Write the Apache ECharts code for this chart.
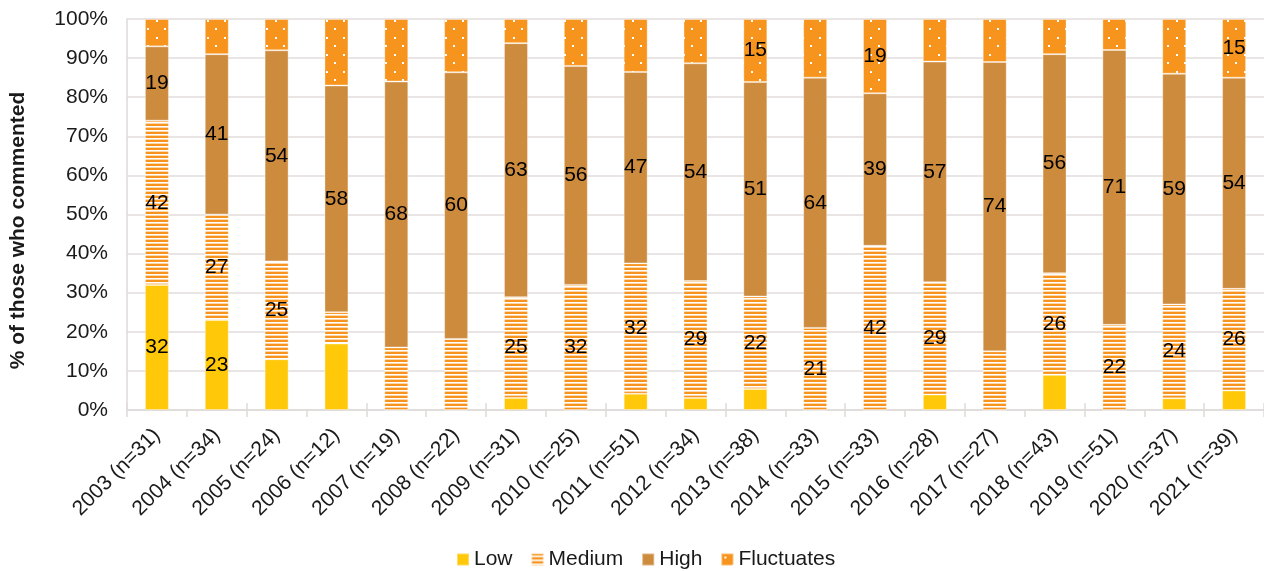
<!DOCTYPE html>
<html>
<head>
<meta charset="utf-8">
<script src="https://cdn.jsdelivr.net/npm/echarts@6/dist/echarts.min.js"></script>
<style>
  html, body { margin: 0; padding: 0; background: #fff; }
  #chart { width: 1264px; height: 571px; }
</style>
</head>
<body>
<div id="chart"></div>
<script>
// Survey years with number of respondents who commented
const years = ['2003 (n=31)', '2004 (n=34)', '2005 (n=24)', '2006 (n=12)', '2007 (n=19)',
  '2008 (n=22)', '2009 (n=31)', '2010 (n=25)', '2011 (n=51)', '2012 (n=34)', '2013 (n=38)',
  '2014 (n=33)', '2015 (n=33)', '2016 (n=28)', '2017 (n=27)', '2018 (n=43)', '2019 (n=51)',
  '2020 (n=37)', '2021 (n=39)'];

// Reported values per category (each column is scaled to 100%)
const low        = [32, 23, 13, 17, 0, 0, 3, 0, 4, 3, 5, 0, 0, 4, 0, 9, 0, 3, 5];
const medium     = [42, 27, 25, 8, 16, 16, 25, 32, 32, 29, 22, 21, 42, 29, 15, 26, 22, 24, 26];
const high       = [19, 41, 54, 58, 68, 60, 63, 56, 47, 54, 51, 64, 39, 57, 74, 56, 71, 59, 54];
const fluctuates = [7, 9, 8, 17, 16, 12, 6, 12, 13, 11, 15, 15, 19, 11, 11, 9, 8, 14, 15];

// Which values carry a printed label (1 = labelled)
const lowLabelled        = [1, 1, 0, 0, 0, 0, 0, 0, 0, 0, 0, 0, 0, 0, 0, 0, 0, 0, 0];
const mediumLabelled     = [1, 1, 1, 0, 0, 0, 1, 1, 1, 1, 1, 1, 1, 1, 0, 1, 1, 1, 1];
const highLabelled       = [1, 1, 1, 1, 1, 1, 1, 1, 1, 1, 1, 1, 1, 1, 1, 1, 1, 1, 1];
const fluctuatesLabelled = [0, 0, 0, 0, 0, 0, 0, 0, 0, 0, 1, 0, 1, 0, 0, 0, 0, 0, 1];

const ORANGE = '#f7941d';

// Narrow horizontal stripes for "Medium"
function stripePattern() {
  const c = document.createElement('canvas');
  c.width = 4; c.height = 4;
  const g = c.getContext('2d');
  g.fillStyle = '#ffffff'; g.fillRect(0, 0, 4, 4);
  g.fillStyle = ORANGE; g.fillRect(0, 0, 4, 2);
  g.fillStyle = '#fcd7ab'; g.fillRect(0, 3, 4, 1);
  return c;
}

// Sparse white dots on orange for "Fluctuates"
function dotPattern() {
  const c = document.createElement('canvas');
  c.width = 17; c.height = 17;
  const g = c.getContext('2d');
  g.fillStyle = ORANGE; g.fillRect(0, 0, 17, 17);
  g.fillStyle = '#ffffff';
  g.fillRect(3, 3, 2, 2);
  g.fillRect(11, 11, 2, 2);
  return c;
}

const totals = years.map((_, i) => low[i] + medium[i] + high[i] + fluctuates[i]);

function toData(values, labelled) {
  return values.map((v, i) => ({
    value: v / totals[i] * 100,
    raw: v,
    label: { show: labelled[i] === 1 }
  }));
}

const FONT = '"Liberation Sans", Arial, sans-serif';
const TEXT = '#1a1a1a';
const RULE = '#e0dada';

function makeSeries(name, values, labelled, color) {
  return {
    name: name,
    type: 'bar',
    stack: 'share',
    barWidth: 24,
    data: toData(values, labelled),
    itemStyle: { color: color, borderColor: 'rgba(255,255,255,0.35)', borderWidth: 1 },
    label: {
      position: 'inside',
      fontSize: 21,
      fontFamily: FONT,
      color: '#000',
      formatter: p => p.data.raw
    },
    emphasis: { disabled: true }
  };
}

const chart = echarts.init(document.getElementById('chart'), null, { renderer: 'canvas' });

chart.setOption({
  animation: false,
  textStyle: { fontFamily: FONT },
  grid: { left: 126, top: 19, width: 1140, height: 391, containLabel: false },
  legend: {
    left: 456,
    top: 549,
    padding: 0,
    itemWidth: 12,
    itemHeight: 12,
    itemGap: 18,
    icon: 'rect',
    textStyle: { fontSize: 21, color: TEXT, fontFamily: FONT },
    data: ['Low', 'Medium', 'High', 'Fluctuates']
  },
  xAxis: [{
    type: 'category',
    data: years,
    position: 'bottom',
    axisLine: { lineStyle: { color: RULE, width: 1.5 } },
    axisTick: { show: true, length: 7, lineStyle: { color: RULE, width: 1.5 } },
    axisLabel: { rotate: 45, interval: 0, fontSize: 21, color: TEXT, margin: 22, fontFamily: FONT }
  }, {
    // inner half of the crossing tick marks
    type: 'category',
    data: years,
    position: 'bottom',
    offset: 0,
    axisLine: { show: false },
    axisTick: { show: true, inside: true, length: 7, lineStyle: { color: RULE, width: 1.5 } },
    axisLabel: { show: false }
  }],
  yAxis: {
    type: 'value',
    min: 0,
    max: 100,
    interval: 10,
    name: '% of those who commented',
    nameLocation: 'middle',
    nameGap: 98,
    nameTextStyle: {
      fontSize: 21, fontWeight: 'bold', color: TEXT, fontFamily: FONT,
      padding: [0, 32, 0, 0]
    },
    axisLine: { show: true, lineStyle: { color: RULE, width: 1.5 } },
    axisTick: { show: false },
    axisLabel: { formatter: '{value}%', fontSize: 21, color: TEXT, margin: 19, fontFamily: FONT },
    splitLine: { lineStyle: { color: '#e3dddd', width: 1.5 } }
  },
  series: [
    makeSeries('Low', low, lowLabelled, '#ffc90a'),
    makeSeries('Medium', medium, mediumLabelled, { image: stripePattern(), repeat: 'repeat' }),
    makeSeries('High', high, highLabelled, '#cd8b3e'),
    makeSeries('Fluctuates', fluctuates, fluctuatesLabelled, { image: dotPattern(), repeat: 'repeat' })
  ]
});
</script>
</body>
</html>
